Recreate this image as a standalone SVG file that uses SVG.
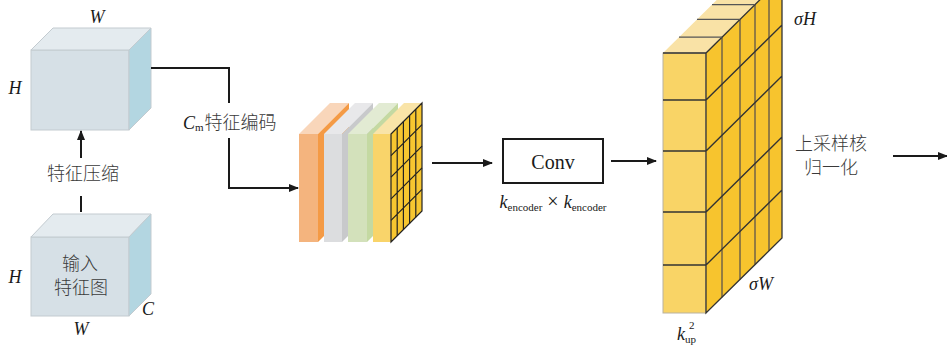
<svg xmlns="http://www.w3.org/2000/svg" width="947" height="345" viewBox="0 0 947 345">
<defs>
<marker id="arr" viewBox="0 0 10 10" refX="9" refY="5" markerWidth="5" markerHeight="5" orient="auto" markerUnits="strokeWidth">
<path d="M0,1 L10,5 L0,9 z" fill="#1a1a1a"/>
</marker>
<style>
.conn{stroke:#1a1a1a;stroke-width:2;fill:none}
.cjk{font-family:"Noto Sans CJK SC",sans-serif;font-size:18px;fill:#3a3a3a;font-weight:300}
.it{font-family:"Liberation Serif",serif;font-style:italic;font-size:18px;fill:#1a1a1a}
.sub{font-family:"Liberation Serif",serif;font-size:11px;fill:#1a1a1a}
.cf{fill:#D6E0E6;stroke:#c3cbd0;stroke-width:1}
.ct{fill:#E4EBEF;stroke:#c3cbd0;stroke-width:1}
.cs{fill:#B3D6E1;stroke:#c3cbd0;stroke-width:1}
.g{stroke:#222;stroke-width:1.2;fill:none}
.bl{stroke:#333;stroke-width:1.3;fill:none}
.bc{stroke:#7a6a45;stroke-width:1.6;fill:none}
</style>
</defs>
<rect width="947" height="345" fill="#fff"/>

<g id="cube-top">
<rect class="cf" x="31" y="50" width="98" height="80"/>
<polygon class="ct" points="31,50 53,28 151,28 129,50"/>
<polygon class="cs" points="129,50 151,28 151,108 129,130"/>
<text class="it" x="97" y="23" text-anchor="middle">W</text>
<text class="it" x="15" y="94" text-anchor="middle">H</text>
</g>

<g id="cube-input">
<rect class="cf" x="31" y="237" width="98" height="79"/>
<polygon class="ct" points="31,237 53,214 151,214 129,237"/>
<polygon class="cs" points="129,237 151,214 151,294 129,316"/>
<text class="cjk" x="80" y="270" text-anchor="middle">输入</text>
<text class="cjk" x="81" y="294" text-anchor="middle">特征图</text>
<text class="it" x="15" y="283" text-anchor="middle">H</text>
<text class="it" x="148" y="315" text-anchor="middle">C</text>
<text class="it" x="81" y="335" text-anchor="middle">W</text>
</g>

<g id="stack">
<polygon fill="#F9D6BA" points="299,134 330,103 349,103 318,134"/>
<polygon fill="#F49A45" points="318,134 349,103 349,211 318,242"/>
<rect fill="#F4B47E" x="299" y="134" width="19" height="108"/>
<polygon fill="#E8E8EA" points="324,134 355,103 373,103 342,134"/>
<polygon fill="#C8C9CB" points="342,134 373,103 373,211 342,242"/>
<rect fill="#DCDDDF" x="324" y="134" width="18" height="108"/>
<polygon fill="#E2EBD3" points="348,134 379,103 398,103 367,134"/>
<polygon fill="#C4D9A2" points="367,134 398,103 398,211 367,242"/>
<rect fill="#D3E1BB" x="348" y="134" width="19" height="108"/>
<polygon fill="#F9E4A8" points="373,134 404,103 422,103 391,134"/>
<rect fill="#F9D46A" x="373" y="134" width="18" height="108"/>
<polygon fill="#F7C630" stroke="#222" stroke-width="1.2" points="391,134 422,103 422,211 391,242"/>
<path class="g" d="M397.2,127.8V235.8M403.4,121.6V229.6M409.6,115.4V223.4M415.8,109.2V217.2M391,155.6L422,124.6M391,177.2L422,146.2M391,198.8L422,167.8M391,220.4L422,189.4"/>
</g>

<g id="conv">
<rect x="503" y="139" width="100" height="44" fill="#fff" stroke="#1a1a1a" stroke-width="2"/>
<text x="553" y="169" text-anchor="middle" font-family="Liberation Serif,serif" font-size="20" fill="#1a1a1a">Conv</text>
<text x="553" y="208" text-anchor="middle"><tspan class="it">k</tspan><tspan class="sub" dy="3">encoder</tspan><tspan font-family="Liberation Serif,serif" font-size="20" dy="-3" fill="#1a1a1a"> × </tspan><tspan class="it">k</tspan><tspan class="sub" dy="3">encoder</tspan></text>
</g>

<g id="kernel-block">
<polygon fill="#F9E2A6" points="663,53 706,53 782,-22 739,-22"/>
<rect x="663" y="53" width="43" height="260" fill="#F9D466" stroke="#b9b2a0" stroke-width="1"/>
<polygon fill="#F7C42E" points="706,53 782,-22 782,238 706,313"/>
<path class="bc" d="M722,37.2V297.2M740,19.4V279.4M755,4.6V264.6M769,-9.2V250.8"/>
<path class="bl" d="M706,53V313L782,238V-22M663,53H706L782,-22M663,100H706L782,25M663,151H706L782,76M663,212H706L782,137M663,265H706L782,190"/>
<path stroke="#555" stroke-width="1.2" fill="none" d="M679,37.2H722M697,19.4H740M712,4.6H755M726,-9.2H769"/>
<text class="it" x="794" y="25">σH</text>
<text class="it" x="749" y="290">σW</text>
<text x="677" y="340"><tspan class="it">k</tspan><tspan class="sub" dy="3">up</tspan></text>
<text class="sub" x="689" y="329" font-size="9">2</text>
</g>

<g id="norm-label">
<text class="cjk" x="831" y="150" text-anchor="middle">上采样核</text>
<text class="cjk" x="831" y="174" text-anchor="middle">归一化</text>
</g>

<g id="connectors">
<path class="conn" d="M81,158V131" marker-end="url(#arr)"/>
<path class="conn" d="M81,196V212"/>
<text class="cjk" x="83" y="180" text-anchor="middle">特征压缩</text>
<path class="conn" d="M151,68H229V103"/>
<path class="conn" d="M229,138V188H298" marker-end="url(#arr)"/>
<text x="183" y="129"><tspan class="it">C</tspan><tspan class="sub" font-size="10" dy="2">m</tspan><tspan class="cjk" dy="-2" dx="1">特征编码</tspan></text>
<path class="conn" d="M432,163H492" marker-end="url(#arr)"/>
<path class="conn" d="M611,161H656" marker-end="url(#arr)"/>
<path class="conn" d="M893,156H947" marker-end="url(#arr)"/>
</g>
</svg>
